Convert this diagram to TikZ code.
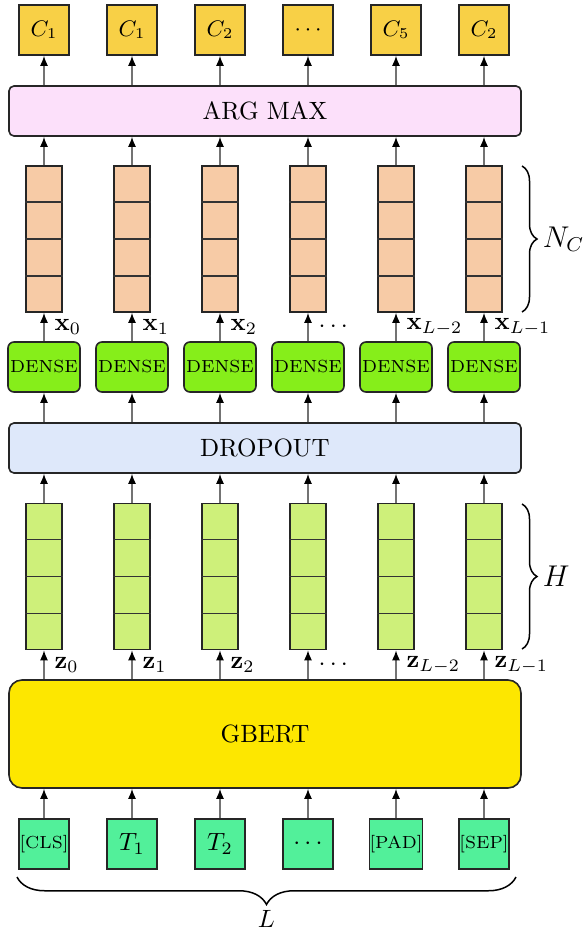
\documentclass[tikz,border=0pt]{standalone}
\usetikzlibrary{arrows.meta,calc,decorations.pathreplacing}
\definecolor{outcol}{RGB}{248,208,70}
\definecolor{argcol}{RGB}{252,224,250}
\definecolor{vecocol}{RGB}{247,203,166}
\definecolor{densecol}{RGB}{134,238,26}
\definecolor{dropcol}{RGB}{222,232,250}
\definecolor{vecgcol}{RGB}{206,240,122}
\definecolor{bertcol}{RGB}{253,231,0}
\definecolor{tokcol}{RGB}{82,240,154}
\begin{document}
\begin{tikzpicture}[x=0.4pt,y=-0.4pt,
  box/.style={draw=black!85,line width=0.65pt,inner sep=0pt},
  sq/.style={box,minimum width=20pt,minimum height=20pt},
  wide/.style={box,rounded corners=2pt,minimum width=204.8pt,minimum height=20pt},
  vec/.style={box,minimum width=14.4pt,minimum height=58.4pt},
  densebox/.style={box,fill=densecol,rounded corners=2.4pt,minimum width=28.8pt,minimum height=20pt,font=\scriptsize},
  cell/.style={draw=black!80,line width=0.55pt},
  flow/.style={draw=black!55,line width=0.55pt,-{Latex[length=4pt,width=3.2pt,color=black]}},
  lab/.style={anchor=west,inner sep=0pt,xshift=4pt},
  brace/.style={decorate,line width=0.6pt}
]
\useasboundingbox (0,0) rectangle (583,934);

% wide layers
\node[wide,fill=argcol] (am) at (265,111) {ARG MAX};
\node[wide,fill=dropcol] (drop) at (265,448) {DROPOUT};
\node[box,fill=bertcol,rounded corners=5.2pt,minimum width=204.8pt,minimum height=43.2pt] (bert) at (265,734) {GBERT};

% one column per token position
\foreach \i/\ctxt/\tok/\xl/\zl in {
  0/{$C_1$}/{\scriptsize[CLS]}/{$\mathbf{x}_0$}/{$\mathbf{z}_0$},
  1/{$C_1$}/{$T_1$}/{$\mathbf{x}_1$}/{$\mathbf{z}_1$},
  2/{$C_2$}/{$T_2$}/{$\mathbf{x}_2$}/{$\mathbf{z}_2$},
  3/{$\cdots$}/{$\cdots$}/{$\cdots$}/{$\cdots$},
  4/{$C_5$}/{\scriptsize[PAD]}/{$\mathbf{x}_{L-2}$}/{$\mathbf{z}_{L-2}$},
  5/{$C_2$}/{\scriptsize[SEP]}/{$\mathbf{x}_{L-1}$}/{$\mathbf{z}_{L-1}$}} {
  \pgfmathsetmacro\cx{44+88*\i}
  \node[sq,fill=outcol,font=\small] (c\i) at (\cx,30) {\ctxt};
  \node[vec,fill=vecocol] (vo\i) at (\cx,239) {};
  \node[densebox] (d\i) at (\cx,367) {DENSE};
  \node[vec,fill=vecgcol] (vg\i) at (\cx,576.5) {};
  \node[sq,fill=tokcol] (t\i) at (\cx,844) {\tok};
  \foreach \f in {0.25,0.5,0.75} {
    \draw[cell] ($(vo\i.south west)!\f!(vo\i.north west)$) -- ($(vo\i.south east)!\f!(vo\i.north east)$);
    \draw[cell] ($(vg\i.south west)!\f!(vg\i.north west)$) -- ($(vg\i.south east)!\f!(vg\i.north east)$);
  }
  \draw[flow] (am.north -| c\i) -- (c\i.south);
  \draw[flow] (vo\i.north) -- (vo\i.north |- am.south);
  \draw[flow] (d\i.north) -- node[lab] {\xl} (vo\i.south);
  \draw[flow] (drop.north -| d\i) -- (d\i.south);
  \draw[flow] (vg\i.north) -- (vg\i.north |- drop.south);
  \draw[flow] (bert.north -| vg\i) -- node[lab] {\zl} (vg\i.south);
  \draw[flow] (t\i.north) -- (t\i.north |- bert.south);
}

% braces
\coordinate (nctop) at (522,166);
\coordinate (ncbot) at (522,312);
\coordinate (htop) at (522,504);
\coordinate (hbot) at (522,649);
\coordinate (lright) at (516,877);
\coordinate (lleft) at (17,877);
\draw[brace,decoration={brace,amplitude=6pt}] (nctop) -- node[right=8pt,inner sep=0pt,font=\large] (nclab) {$N_C$} (ncbot);
\draw[brace,decoration={brace,amplitude=6pt}] (htop) -- node[right=8pt,inner sep=0pt,font=\large] (hlab) {$H$} (hbot);
\draw[brace,decoration={brace,amplitude=11pt}] (lright) -- node[below=13pt,inner sep=0pt] (llab) {$L$} (lleft);
\end{tikzpicture}
\end{document}
